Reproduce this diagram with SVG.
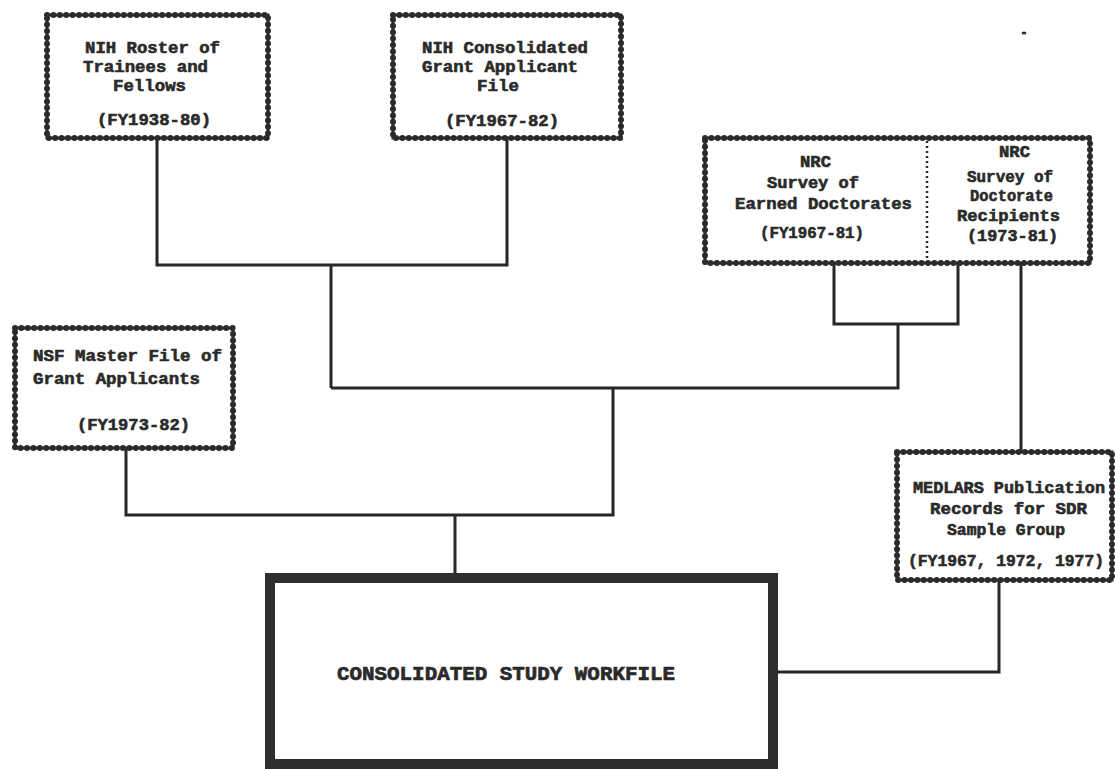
<svg xmlns="http://www.w3.org/2000/svg" width="1115" height="769" viewBox="0 0 1115 769">
<style>
.bg{fill:#ffffff}
.box{fill:#ffffff;stroke:#2b2b2b;stroke-width:3}
.bead{fill:none;stroke:#2b2b2b;stroke-width:6;stroke-linecap:round;stroke-dasharray:0 6.4}
.main{fill:#ffffff;stroke:#2e2e2e;stroke-width:10}
.conn{fill:none;stroke:#262626;stroke-width:3;stroke-linejoin:miter}
.div{stroke:#2b2b2b;stroke-width:2.5;stroke-dasharray:2 3}
.t{font-family:"Liberation Mono","DejaVu Sans Mono",monospace;font-weight:bold;font-size:16px;fill:#2a2a2a;stroke:#2a2a2a;stroke-width:0.6}
.tb{font-family:"Liberation Mono","DejaVu Sans Mono",monospace;font-weight:bold;font-size:21px;fill:#2a2a2a;stroke:#2a2a2a;stroke-width:0.7}
</style>
<rect class="bg" x="0" y="0" width="1115" height="769"/>

<g id="connectors">
<path class="conn" d="M157 138 V265 H507 V138"/>
<path class="conn" d="M331 265 V388"/>
<path class="conn" d="M331 388 H898 V324"/>
<path class="conn" d="M834 263 V324 H958 V263"/>
<path class="conn" d="M1021 263 V452"/>
<path class="conn" d="M126 448 V515 H613 V388"/>
<path class="conn" d="M455 515 V573"/>
<path class="conn" d="M778 672 H999 V580"/>
</g>

<g id="nih-roster">
<rect class="box" x="47" y="15" width="221" height="123"/>
<rect class="bead" x="47" y="15" width="221" height="123"/>
<text class="t" x="85" y="53" textLength="135" lengthAdjust="spacingAndGlyphs">NIH Roster of</text>
<text class="t" x="83" y="72" textLength="125" lengthAdjust="spacingAndGlyphs">Trainees and</text>
<text class="t" x="113" y="91" textLength="73" lengthAdjust="spacingAndGlyphs">Fellows</text>
<text class="t" x="97" y="125" textLength="114" lengthAdjust="spacingAndGlyphs">(FY1938-80)</text>
</g>

<g id="nih-consolidated">
<rect class="box" x="393" y="15" width="228" height="123"/>
<rect class="bead" x="393" y="15" width="228" height="123"/>
<text class="t" x="422" y="53" textLength="166" lengthAdjust="spacingAndGlyphs">NIH Consolidated</text>
<text class="t" x="422" y="72" textLength="156" lengthAdjust="spacingAndGlyphs">Grant Applicant</text>
<text class="t" x="477" y="91" textLength="42" lengthAdjust="spacingAndGlyphs">File</text>
<text class="t" x="445" y="126" textLength="114" lengthAdjust="spacingAndGlyphs">(FY1967-82)</text>
</g>

<g id="nrc">
<rect class="box" x="705" y="138" width="385" height="125"/>
<rect class="bead" x="705" y="138" width="385" height="125"/>
<line class="div" x1="927" y1="141" x2="927" y2="260"/>
<text class="t" x="800" y="167" textLength="31" lengthAdjust="spacingAndGlyphs">NRC</text>
<text class="t" x="767" y="188" textLength="92" lengthAdjust="spacingAndGlyphs">Survey of</text>
<text class="t" x="735" y="209" textLength="177" lengthAdjust="spacingAndGlyphs">Earned Doctorates</text>
<text class="t" x="760" y="238" textLength="104" lengthAdjust="spacingAndGlyphs">(FY1967-81)</text>
<text class="t" x="999" y="157" textLength="31" lengthAdjust="spacingAndGlyphs">NRC</text>
<text class="t" x="967" y="182" textLength="86" lengthAdjust="spacingAndGlyphs">Survey of</text>
<text class="t" x="970" y="201" textLength="83" lengthAdjust="spacingAndGlyphs">Doctorate</text>
<text class="t" x="957" y="221" textLength="103" lengthAdjust="spacingAndGlyphs">Recipients</text>
<text class="t" x="967" y="241" textLength="91" lengthAdjust="spacingAndGlyphs">(1973-81)</text>
</g>

<g id="nsf">
<rect class="box" x="15" y="328" width="218" height="120"/>
<rect class="bead" x="15" y="328" width="218" height="120"/>
<text class="t" x="33" y="361" textLength="189" lengthAdjust="spacingAndGlyphs">NSF Master File of</text>
<text class="t" x="33" y="384" textLength="167" lengthAdjust="spacingAndGlyphs">Grant Applicants</text>
<text class="t" x="77" y="430" textLength="113" lengthAdjust="spacingAndGlyphs">(FY1973-82)</text>
</g>

<g id="medlars">
<rect class="box" x="897" y="452" width="215" height="128"/>
<rect class="bead" x="897" y="452" width="215" height="128"/>
<text class="t" x="913" y="493" textLength="192" lengthAdjust="spacingAndGlyphs">MEDLARS Publication</text>
<text class="t" x="930" y="514" textLength="157" lengthAdjust="spacingAndGlyphs">Records for SDR</text>
<text class="t" x="947" y="535" textLength="118" lengthAdjust="spacingAndGlyphs">Sample Group</text>
<text class="t" x="908" y="566" textLength="196" lengthAdjust="spacingAndGlyphs">(FY1967, 1972, 1977)</text>
</g>

<g id="workfile">
<rect class="main" x="270" y="578" width="503" height="186"/>
<text class="tb" x="337" y="680" textLength="338" lengthAdjust="spacingAndGlyphs">CONSOLIDATED STUDY WORKFILE</text>
</g>

<ellipse cx="1024" cy="33" rx="2.5" ry="1.5" fill="#333"/>
</svg>
